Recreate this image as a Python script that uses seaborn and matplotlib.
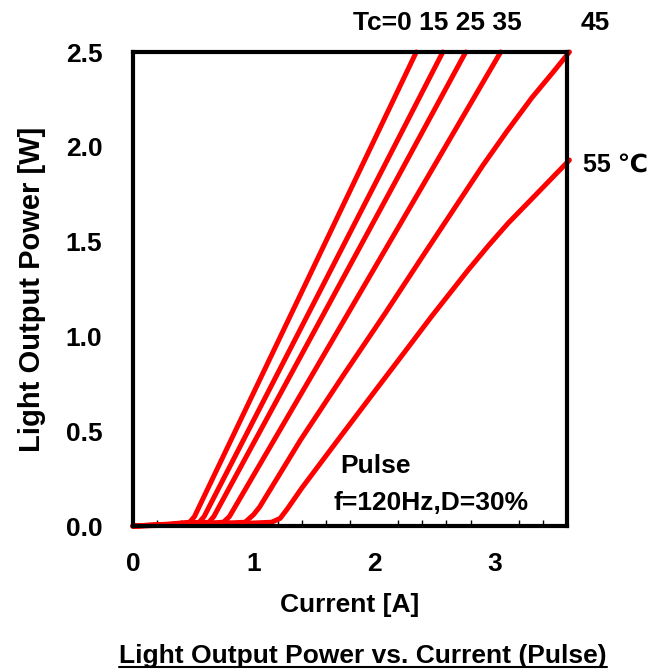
import numpy as np
import pandas as pd
import matplotlib
matplotlib.use("Agg")
import matplotlib.pyplot as plt
import seaborn as sns
from matplotlib.lines import Line2D
from matplotlib.ticker import MultipleLocator, FormatStrFormatter

# curve data (current [A], power [W])
tc_labels = ["0", "15", "25", "35", "45", "55"]

current_tc0 = [0.0, 0.30, 0.47, 0.51, 2.35]
power_tc0 = [0.0, 0.01, 0.02, 0.05, 2.50]

current_tc15 = [0.0, 0.35, 0.55, 0.59, 2.57]
power_tc15 = [0.0, 0.01, 0.02, 0.05, 2.50]

current_tc25 = [0.0, 0.40, 0.63, 0.67, 2.76]
power_tc25 = [0.0, 0.01, 0.02, 0.05, 2.50]

current_tc35 = [0.0, 0.50, 0.75, 0.80, 3.05]
power_tc35 = [0.0, 0.01, 0.02, 0.05, 2.50]

current_tc45 = [0.0, 0.60, 0.93, 1.00, 1.05, 1.39, 1.75, 2.09, 2.40, 2.65, 2.90, 3.10, 3.31, 3.48, 3.62]
power_tc45 = [0.0, 0.01, 0.02, 0.06, 0.10, 0.454, 0.80, 1.12, 1.42, 1.66, 1.90, 2.08, 2.26, 2.39, 2.50]

current_tc55 = [0.0, 0.80, 1.15, 1.22, 1.28, 1.40, 1.70, 2.00, 2.25, 2.475, 2.78, 2.95, 3.11, 3.30, 3.46, 3.62]
power_tc55 = [0.0, 0.01, 0.02, 0.04, 0.09, 0.20, 0.454, 0.706, 0.915, 1.104, 1.35, 1.48, 1.596, 1.72, 1.825, 1.93]

curves = [
    (current_tc0, power_tc0),
    (current_tc15, power_tc15),
    (current_tc25, power_tc25),
    (current_tc35, power_tc35),
    (current_tc45, power_tc45),
    (current_tc55, power_tc55),
]

frames = []
for tc, (cur, pw) in zip(tc_labels, curves):
    frames.append(pd.DataFrame({"current": cur, "power": pw, "tc": tc}))
df = pd.concat(frames, ignore_index=True)

sns.set_style("white")
plt.rcParams["font.family"] = ["Liberation Sans", "DejaVu Sans"]
plt.rcParams["font.weight"] = "bold"
plt.rcParams["text.color"] = "black"
plt.rcParams["axes.labelcolor"] = "black"
plt.rcParams["xtick.color"] = "black"
plt.rcParams["ytick.color"] = "black"

fig = plt.figure(figsize=(6.53, 6.71), dpi=100)
ax = fig.add_axes([133 / 653, 1 - 526 / 671, (567 - 133) / 653, (526 - 52) / 671])

sns.lineplot(
    data=df, x="current", y="power", hue="tc", units="tc", estimator=None,
    sort=False, palette=["#ff0000"] * 6, linewidth=3.6, legend=False, ax=ax,
)
for ln in ax.get_lines():
    ln.set_solid_capstyle("round")
    ln.set_solid_joinstyle("round")
    ln.set_clip_on(False)

ax.xaxis.set_major_locator(MultipleLocator(1))
ax.xaxis.set_minor_locator(MultipleLocator(0.2))
ax.yaxis.set_major_locator(MultipleLocator(0.5))
ax.yaxis.set_major_formatter(FormatStrFormatter("%.1f"))
ax.set_xlim(0, 3.6)
ax.set_ylim(0, 2.5)

ax.tick_params(axis="both", which="both", direction="in", length=4, width=1,
               color="black", labelsize=19, labelcolor="black")
ax.tick_params(axis="x", pad=19)
ax.tick_params(axis="y", pad=22)
ax.tick_params(axis="x", which="minor", bottom=True)

for sp in ax.spines.values():
    sp.set_linewidth(3)
    sp.set_color("black")

ax.set_xlabel("Current [A]", fontsize=19, fontweight="bold", labelpad=12)
ax.set_ylabel("Light Output Power [W]", fontsize=21, fontweight="bold", labelpad=14)

# annotations
fig.text(437 / 653, 1 - 23 / 671, "Tc=0 15 25 35", fontsize=19, fontweight="bold",
         ha="center", va="center")
fig.text(595 / 653, 1 - 23 / 671, "45", fontsize=19, fontweight="bold",
         ha="center", va="center")
fig.text(583 / 653, 1 - 165 / 671, "55 ℃", fontsize=18, fontweight="bold",
         ha="left", va="center")
fig.text(340 / 653, 1 - 466 / 671, "Pulse", fontsize=19, fontweight="bold",
         ha="left", va="center")
fig.text(333 / 653, 1 - 503 / 671, "f=120Hz,D=30%", fontsize=19, fontweight="bold",
         ha="left", va="center")

title = fig.text(363 / 653, 1 - 656 / 671, "Light Output Power vs. Current (Pulse)",
                 fontsize=19, fontweight="bold", ha="center", va="center")

# underline the caption
fig.canvas.draw()
bb = title.get_window_extent().transformed(fig.transFigure.inverted())
fig.add_artist(Line2D([bb.x0, bb.x1], [bb.y0 + 0.002, bb.y0 + 0.002],
                      transform=fig.transFigure, color="black", linewidth=1.5))

fig.savefig("out.png", dpi=100)
